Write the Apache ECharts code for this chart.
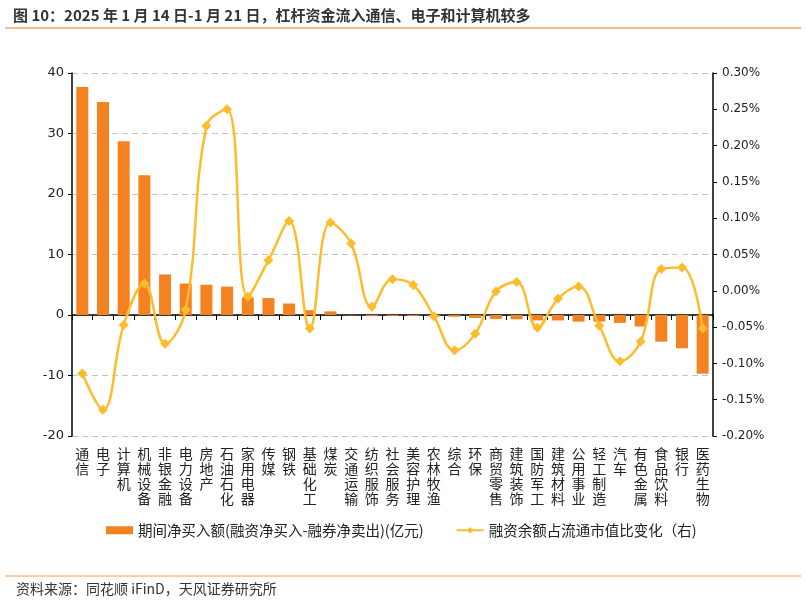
<!DOCTYPE html>
<html><head><meta charset="utf-8">
<script src="https://cdn.jsdelivr.net/npm/echarts@6/dist/echarts.min.js"></script>
<style>html,body{margin:0;padding:0;background:#fff}#c{width:807px;height:605px}</style>
</head><body><div id="c"></div>
<script>
const categories = ['通信','电子','计算机','机械设备','非银金融','电力设备','房地产','石油石化','家用电器','传媒','钢铁','基础化工','煤炭','交通运输','纺织服饰','社会服务','美容护理','农林牧渔','综合','环保','商贸零售','建筑装饰','国防军工','建筑材料','公用事业','轻工制造','汽车','有色金属','食品饮料','银行','医药生物'];
const netBuy = [37.7,35.2,28.7,23.1,6.7,5.2,5.0,4.7,2.9,2.8,1.9,0.8,0.6,-0.05,-0.2,-0.15,-0.15,-0.25,-0.3,-0.5,-0.65,-0.7,-0.9,-0.9,-1.1,-1.1,-1.3,-1.9,-4.4,-5.5,-9.7];
const ratioChange = [-0.114,-0.164,-0.047,0.010,-0.073,-0.026,0.227,0.250,-0.008,0.042,0.096,-0.052,0.094,0.065,-0.022,0.016,0.008,-0.035,-0.082,-0.059,-0.001,0.012,-0.051,-0.011,0.006,-0.048,-0.097,-0.070,0.030,0.032,-0.052];
const leftTicks = {min:-20, max:40, interval:10};
const rightTicks = {min:-0.2, max:0.3, interval:0.05};
const seriesNames = ['期间净买入额(融资净买入-融券净卖出)(亿元)','融资余额占流通市值比变化（右)'];

const chart = echarts.init(document.getElementById('c'), null, {renderer:'canvas'});
const numFont = 'DejaVu Sans';
const cjk = '"Noto Sans CJK SC", sans-serif';
chart.setOption({
  animation:false,
  backgroundColor:'#fff',
  title:{text:'图 10：2025 年 1 月 14 日-1 月 21 日，杠杆资金流入通信、电子和计算机较多',left:8,top:3,
    textStyle:{fontSize:15,fontWeight:'bold',color:'#333',fontFamily:cjk}},
  graphic:[
    {type:'line',shape:{x1:5,y1:28,x2:801,y2:28},style:{stroke:'#F6A660',lineWidth:1.5}},
    {type:'line',shape:{x1:5,y1:576,x2:801,y2:576},style:{stroke:'#F39A4A',lineWidth:1.2}},
    {type:'text',left:16,top:582,style:{text:'资料来源：同花顺 iFinD，天风证券研究所',fontSize:14,fill:'#333',fontFamily:cjk}}
  ],
  legend:{left:101,top:518,itemGap:32,itemWidth:27,itemHeight:8,
    textStyle:{fontSize:14.5,color:'#222',fontFamily:cjk},
    data:[{name:seriesNames[0],icon:'rect'},{name:seriesNames[1]}]},
  grid:{left:72,right:94,top:73,bottom:169},
  xAxis:[
    {type:'category',data:categories,position:'top',
      axisLine:{onZero:true,onZeroAxisIndex:0,lineStyle:{color:'#000',width:1.5}},
      axisTick:{show:true,inside:true,length:5,interval:0,lineStyle:{color:'#000'}},
      axisLabel:{show:false},splitLine:{show:false}},
    {type:'category',data:categories,position:'bottom',
      axisLine:{show:false,onZero:false},axisTick:{show:false},
      axisLabel:{interval:0,margin:10,fontSize:14,lineHeight:15,color:'#222',fontFamily:cjk,
        formatter:v=>v.split('').join('\n')}}
  ],
  yAxis:[
    {type:'value',min:leftTicks.min,max:leftTicks.max,interval:leftTicks.interval,position:'left',
      axisLine:{show:true,lineStyle:{color:'#000',width:1.5}},
      axisTick:{show:true,length:4,lineStyle:{color:'#000'}},
      axisLabel:{fontSize:13,color:'#222',fontFamily:numFont,margin:8},
      splitLine:{show:true,lineStyle:{color:'#c4c4c4',type:[6,4],width:1.2}}},
    {type:'value',min:rightTicks.min,max:rightTicks.max,interval:rightTicks.interval,position:'right',
      axisLine:{show:true,lineStyle:{color:'#000',width:1.5}},
      axisTick:{show:true,length:4,lineStyle:{color:'#000'}},
      axisLabel:{fontSize:12,color:'#222',fontFamily:numFont,margin:9,formatter:v=>v.toFixed(2)+'%'},
      splitLine:{show:false}}
  ],
  series:[
    {name:seriesNames[0],type:'bar',xAxisIndex:0,yAxisIndex:0,data:netBuy,barWidth:12,
      itemStyle:{color:'#F58220'}},
    {name:seriesNames[1],type:'line',xAxisIndex:0,yAxisIndex:1,data:ratioChange,smooth:0.4,
      symbol:'diamond',symbolSize:10,
      lineStyle:{color:'#FDBC2D',width:2.5},itemStyle:{color:'#FDBC2D'}}
  ]
});
</script></body></html>
